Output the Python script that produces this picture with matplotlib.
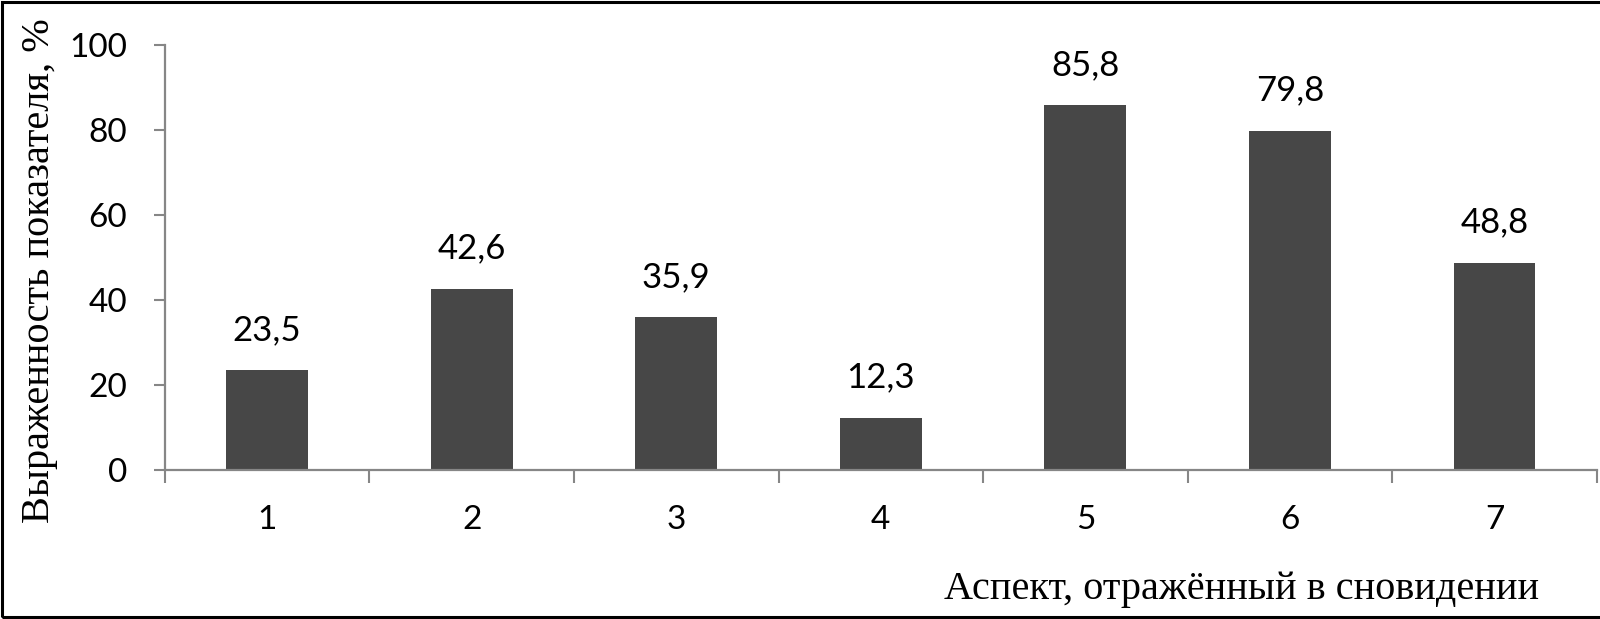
import numpy as np
import matplotlib.pyplot as plt
from matplotlib.patches import Rectangle

# Data
categories = ['1', '2', '3', '4', '5', '6', '7']
values = [23.5, 42.6, 35.9, 12.3, 85.8, 79.8, 48.8]
y_ticks = [0, 20, 40, 60, 80, 100]

bar_color = '#474747'
axis_color = '#868686'

fig = plt.figure(figsize=(16, 6.19), dpi=100)
ax = fig.add_axes([0.103, 0.2407, 0.895, 0.6866])

x = np.arange(len(categories))
bars = ax.bar(x, values, width=0.4, color=bar_color, edgecolor='none')

# value labels with decimal comma
for xi, v in zip(x, values):
    ax.annotate(f'{v:.1f}'.replace('.', ','), (xi, v), xytext=(0, 29),
                textcoords='offset points', ha='center', va='center',
                fontsize=25, family='Lato', color='black')

ax.set_xlim(-0.5, len(categories) - 0.5)
ax.set_ylim(0, 100)

ax.set_yticks(y_ticks)
ax.set_yticklabels([str(t) for t in y_ticks], family='Lato', fontsize=24)
ax.set_xticks(x)
ax.set_xticklabels(categories, family='Lato', fontsize=24)
ax.set_xticks(np.arange(-0.5, len(categories)), minor=True)

ax.tick_params(axis='x', which='major', length=0, pad=25)
ax.tick_params(axis='x', which='minor', length=9, width=1.5, color=axis_color,
               direction='out')
ax.tick_params(axis='y', length=8, width=1.5, color=axis_color, pad=19,
               direction='out')

for side in ['top', 'right']:
    ax.spines[side].set_visible(False)
for side in ['left', 'bottom']:
    ax.spines[side].set_color(axis_color)
    ax.spines[side].set_linewidth(1.6)

fig.text(40 / 1600, 0.562, 'Выраженность показателя, %', rotation=90,
         ha='center', va='center', family='Liberation Serif', fontsize=29)
fig.text(1242 / 1600, 0.047, 'Аспект, отражённый в сновидении',
         ha='center', va='center', family='Liberation Serif', fontsize=29)

# outer frame
fig.patches.append(Rectangle((0.0012, 0.0025), 1.1, 0.994, transform=fig.transFigure,
                             fill=False, edgecolor='black', linewidth=2.2))

fig.savefig('out.png', dpi=100)
